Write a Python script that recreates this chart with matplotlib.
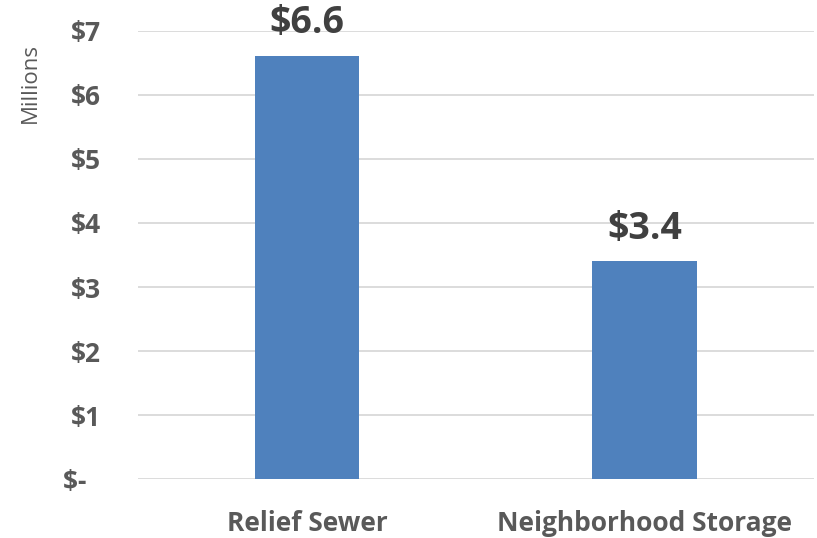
import matplotlib
matplotlib.use("Agg")
import matplotlib.pyplot as plt

# data (millions of dollars)
categories = ["Relief Sewer", "Neighborhood Storage"]
costs = [6.6, 3.4]
y_ticks = [0, 1, 2, 3, 4, 5, 6, 7]
y_tick_labels = ["$-  ", "$1", "$2", "$3", "$4", "$5", "$6", "$7"]
value_labels = ["$6.6", "$3.4"]

plt.rcParams['font.family'] = ['Open Sans', 'DejaVu Sans']

fig = plt.figure(figsize=(8.17, 5.38), dpi=100)
ax = fig.add_axes([0.169, 0.109, 0.827, 0.834])

x = range(len(categories))
bars = ax.bar(x, costs, width=0.31, color="#4f81bd", zorder=3)

ax.set_xlim(-0.5, len(categories) - 0.5)
ax.set_ylim(0, 7)
ax.set_yticks(y_ticks)
ax.set_yticklabels(y_tick_labels, fontsize=19, fontweight="bold", color="#595959")
ax.set_xticks(list(x))
ax.set_xticklabels(categories, fontsize=19, fontweight="bold", color="#595959")
ax.tick_params(axis="y", length=0, pad=27)
ax.tick_params(axis="x", length=0, pad=22)

# gridlines
ax.grid(axis="y", color="#d9d9d9", linewidth=1.3, zorder=0)
for s in ax.spines.values():
    s.set_visible(False)

# value labels above bars
for b, lab in zip(bars, value_labels):
    ax.annotate(lab, (b.get_x() + b.get_width() / 2, b.get_height()),
                xytext=(0, 16.5), textcoords="offset points",
                ha="center", va="baseline", fontsize=27, fontweight="bold",
                color="#404040", zorder=4)

fig.text(0.037, 0.845, "Millions", rotation=90, ha="center", va="center",
         fontsize=16, color="#595959")

fig.savefig("out.png", dpi=100)
